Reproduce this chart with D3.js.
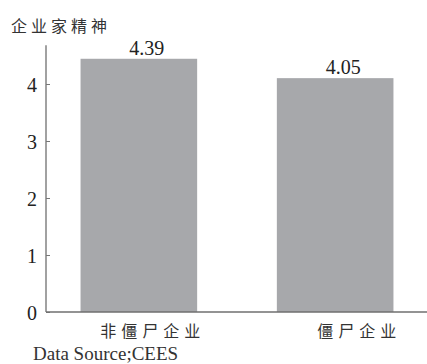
<!DOCTYPE html>
<html>
<head>
<meta charset="utf-8">
<script src="https://cdn.jsdelivr.net/npm/d3@7"></script>
<style>
  html, body { margin: 0; padding: 0; background: #fff; }
  svg { display: block; }
</style>
</head>
<body>
<svg id="chart" width="427" height="364"></svg>
<script>
// Entrepreneurship score by firm type
const categories = ["非僵尸企业", "僵尸企业"];
const values = [4.39, 4.05];
const yTicks = [0, 1, 2, 3, 4];
const title = "企业家精神";
const source = "Data Source;CEES";

const svg = d3.select("#chart");
const serif = "Liberation Serif, DejaVu Serif, serif";
const cjk = "Noto Sans CJK SC, sans-serif";

const x = d3.scaleBand()
  .domain(categories)
  .range([46, 428])
  .paddingInner(0.406)
  .paddingOuter(0.176);

const y = d3.scaleLinear()
  .domain([0, 4])
  .range([312, 84]);

// bars
svg.selectAll("rect.bar")
  .data(values)
  .join("rect")
  .attr("class", "bar")
  .attr("x", (d, i) => x(categories[i]))
  .attr("width", x.bandwidth())
  .attr("y", d => y(d) - 3)
  .attr("height", d => y(0) - y(d) + 3)
  .attr("fill", "#a7a8ab");

// value labels
svg.selectAll("text.val")
  .data(values)
  .join("text")
  .attr("class", "val")
  .attr("x", (d, i) => x(categories[i]) + x.bandwidth() / 2 + 8)
  .attr("y", d => y(d) - 7)
  .attr("text-anchor", "middle")
  .style("font-family", serif)
  .style("font-size", "20px")
  .attr("fill", "#222")
  .text(d => d.toFixed(2));

// y axis
const yAxis = d3.axisRight(y).tickValues(yTicks).tickSize(4).tickFormat(d3.format("d"));
const gy = svg.append("g").attr("transform", "translate(46,0)").call(yAxis);
gy.attr("font-family", null).attr("font-size", null);
gy.select(".domain").attr("stroke", "#8a8a8a").attr("stroke-width", 1.6)
  .attr("d", `M0,${y(0)}V${y(4.68)}`);
gy.selectAll(".tick line").attr("stroke", "#777").attr("stroke-width", 1);
gy.selectAll(".tick text")
  .attr("x", -9)
  .attr("dy", "0.35em")
  .attr("text-anchor", "end")
  .style("font-family", serif)
  .style("font-size", "20px")
  .attr("fill", "#222");

// x axis line
svg.append("line")
  .attr("x1", 46).attr("x2", 427)
  .attr("y1", y(0)).attr("y2", y(0))
  .attr("stroke", "#6f6f6f").attr("stroke-width", 1.6);

// category labels
svg.selectAll("text.cat")
  .data(categories)
  .join("text")
  .attr("class", "cat")
  .attr("x", (d, i) => x(d) + x.bandwidth() / 2 + (i === 0 ? 14 : 24))
  .attr("y", 337)
  .attr("text-anchor", "middle")
  .style("font-family", cjk)
  .style("font-size", "16px")
  .attr("letter-spacing", 5)
  .attr("fill", "#333")
  .text(d => d);

// title
svg.append("text")
  .attr("x", 11).attr("y", 32)
  .style("font-family", cjk)
  .style("font-size", "16px")
  .attr("letter-spacing", 4)
  .attr("fill", "#333")
  .text(title);

// source note
svg.append("text")
  .attr("x", 33).attr("y", 360)
  .style("font-family", serif)
  .style("font-size", "19px")
  .attr("fill", "#333")
  .text(source);
</script>
</body>
</html>
